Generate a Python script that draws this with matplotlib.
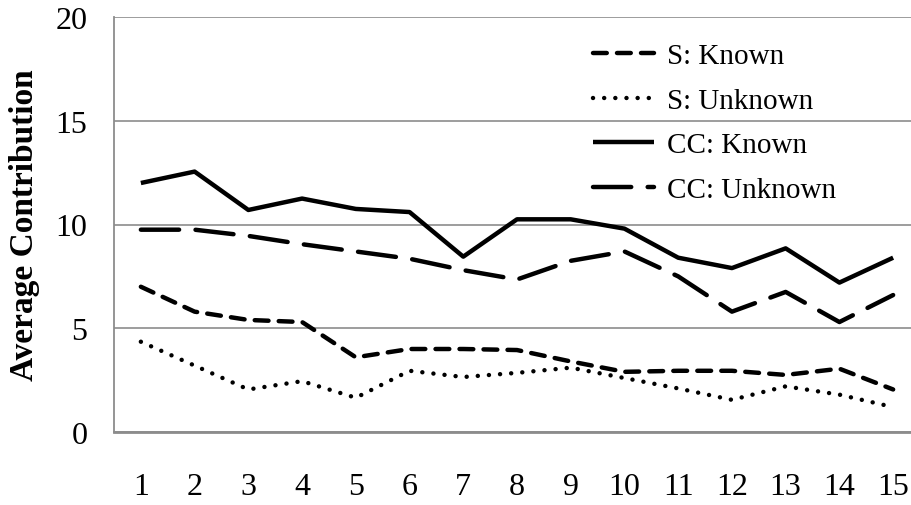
import matplotlib
matplotlib.use("Agg")
import matplotlib.pyplot as plt

plt.rcParams['font.family'] = ['Liberation Serif', 'DejaVu Serif']

periods = list(range(1, 16))
s_known = [7.0, 5.8, 5.4, 5.3, 3.6, 4.0, 4.0, 3.95, 3.4, 2.9, 2.95, 2.95, 2.75, 3.05, 2.05]
s_unknown = [4.35, 3.2, 2.05, 2.45, 1.65, 2.95, 2.65, 2.85, 3.1, 2.6, 2.1, 1.55, 2.2, 1.8, 1.2]
cc_known = [12.0, 12.55, 10.7, 11.25, 10.75, 10.6, 8.45, 10.25, 10.25, 9.8, 8.4, 7.9, 8.85, 7.2, 8.4]
cc_unknown = [9.75, 9.75, 9.45, 9.05, 8.7, 8.35, 7.8, 7.35, 8.25, 8.7, 7.5, 5.8, 6.75, 5.3, 6.6]
labels = ["S: Known", "S: Unknown", "CC: Known", "CC: Unknown"]
yticks = [0, 5, 10, 15, 20]

fig = plt.figure(figsize=(9.11, 5.06), dpi=100)
ax = fig.add_axes([114/911, 73/506, 806/911, 415/506])

lw = 3.2
styles = [
    dict(dashes=(3.1, 2.3), dash_capstyle='round'),
    dict(dashes=(0.01, 2.5), dash_capstyle='round'),
    dict(linestyle='-', solid_capstyle='butt'),
    dict(dashes=(8.6, 3.7), dash_capstyle='round'),
]
series = [s_known, s_unknown, cc_known, cc_unknown]
for vals, lab, st in zip(series, labels, styles):
    ax.plot(periods, vals, color='black', lw=lw, label=lab, clip_on=False, **st)

ax.set_xlim(0.5, 15.5)
ax.set_ylim(0, 20)
ax.set_yticks(yticks)
ax.set_xticks(periods)
ax.tick_params(axis='both', length=0, labelsize=23)
ax.tick_params(axis='y', pad=19)
ax.tick_params(axis='x', pad=29)
ax.yaxis.grid(True, color='#8c8c8c', lw=1.2)
ax.set_axisbelow(True)
for s in ['top', 'right']:
    ax.spines[s].set_visible(False)
ax.spines['left'].set_color('#8c8c8c')
ax.spines['left'].set_linewidth(1.3)
ax.spines['bottom'].set_color('#8c8c8c')
ax.spines['bottom'].set_linewidth(2)

fig.text(25/911, 1-225/506, "Average Contribution", rotation=90, ha='center', va='center',
         fontsize=24, fontweight='bold')

leg = ax.legend(loc='upper left', bbox_to_anchor=(593/911, 1-44/506), bbox_transform=fig.transFigure,
                frameon=False, fontsize=21, handlelength=2.1, handletextpad=0.45,
                labelspacing=0.62, borderpad=0, borderaxespad=0)

fig.savefig("out.png", dpi=100)
